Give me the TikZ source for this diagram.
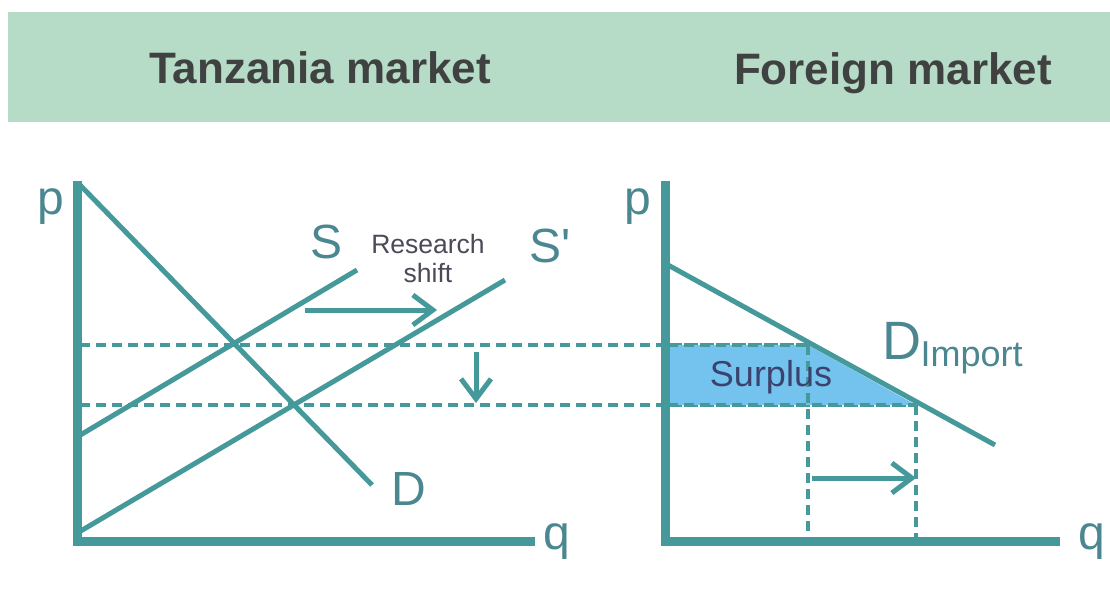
\documentclass[tikz,border=0pt]{standalone}
\usepackage{fontspec}
\setmainfont{Liberation Sans}
\usetikzlibrary{arrows.meta}
\definecolor{tealc}{HTML}{45999A}
\definecolor{band}{HTML}{B6DCC8}
\definecolor{lbl}{HTML}{4B8791}
\definecolor{surp}{HTML}{74C3EE}
\definecolor{darktxt}{HTML}{404242}
\definecolor{smalltxt}{HTML}{4A4A58}
\definecolor{surptxt}{HTML}{3C426E}
\tikzset{
  axis/.style={tealc,line width=9pt},
  curve/.style={tealc,line width=5pt},
  guide/.style={tealc,line width=3.5pt,dash pattern=on 10pt off 6pt},
  shiftarrow/.style={tealc,line width=5pt,-{Straight Barb[length=20pt,width=30pt]}},
  lab/.style={lbl,font=\fontsize{48}{50}\selectfont}
}
\begin{document}
\begin{tikzpicture}[x=1pt,y=-1pt]
\useasboundingbox (0,0) rectangle (1110,604);
% Header band
\fill[band] (8,12) rectangle (1110,122);
\node[darktxt,font=\fontsize{44}{46}\selectfont\bfseries] (title1) at (320,68) {Tanzania market};
\node[darktxt,font=\fontsize{44}{46}\selectfont\bfseries] (title2) at (893,73) {Foreign market};
% Left market
\coordinate (o1) at (77,541);
\draw[guide] (80,345) -- (808,345);
\draw[guide] (80,405) -- (916,405);
\draw[curve] (80,185) -- (372,485);
\draw[curve] (77,437) -- (357,270);
\draw[curve] (79,532) -- (505,280);
\draw[axis] (77,181) -- (o1) -- (535,541);
\node[lab] (p1) at (51,207) {p};
\node[lab] (q1) at (557,542) {q};
\node[lab] (dlab) at (409,489) {D};
\node[lab] (slab) at (327,242) {S};
\node[lab] (sprime) at (550,246) {S\textquotesingle};
\node[align=center,text=smalltxt,font=\fontsize{26.5}{29}\selectfont] (res) at (428,259) {Research\\shift};
\draw[shiftarrow] (305,310) -- (437,310);
\draw[shiftarrow] (476,352) -- (476,403);
% Foreign market
\fill[surp] (668,345) -- (808,345) -- (916,405) -- (668,405) -- cycle;
\draw[guide] (668,345) -- (808,345);
\draw[guide] (668,405) -- (916,405);
\draw[guide] (808,345) -- (808,541);
\draw[guide] (916,405) -- (916,541);
\draw[curve] (668,265) -- (995,445);
\draw[axis] (665,181) -- (665,541) -- (1060,541);
\draw[shiftarrow] (812,478) -- (916,478);
\node[lab] (p2) at (638,207) {p};
\node[lab] (q2) at (1092,542) {q};
\node[surptxt,font=\fontsize{36}{40}\selectfont] (surplus) at (771,377) {Surplus};
\node[lab,font=\fontsize{54}{56}\selectfont] (dimp) at (902,341) {D};
\node[lbl,font=\fontsize{36}{40}\selectfont,anchor=west] (imp) at (917,358) {Import};
\end{tikzpicture}
\end{document}
